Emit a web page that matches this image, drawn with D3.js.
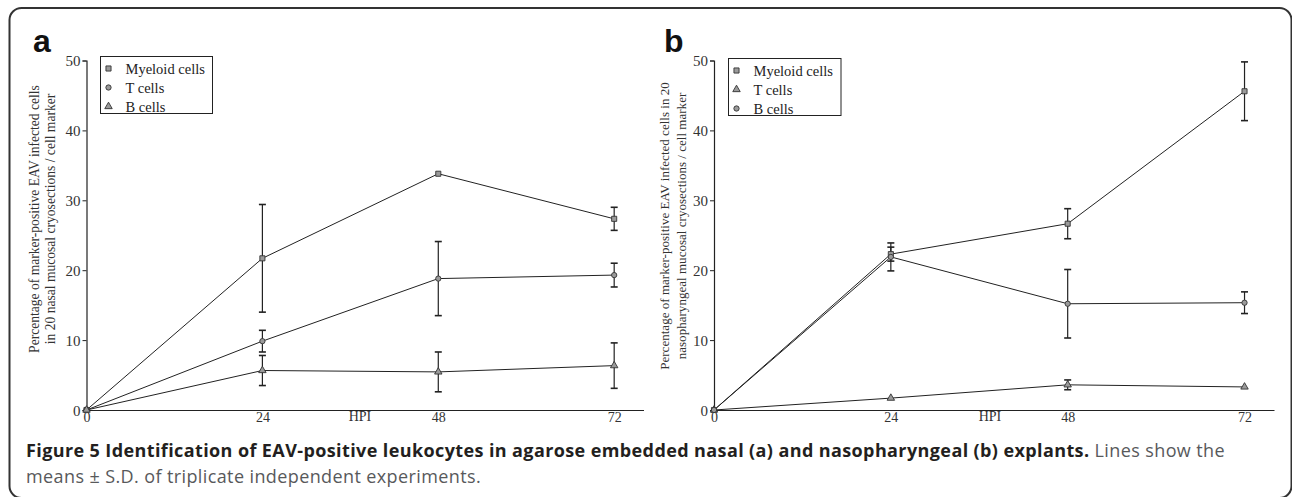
<!DOCTYPE html>
<html>
<head>
<meta charset="utf-8">
<script src="https://cdn.jsdelivr.net/npm/d3@7/dist/d3.min.js"></script>
<style>
  html, body { margin: 0; padding: 0; background: #fff; }
  svg { display: block; }
</style>
</head>
<body>
<svg id="chart" width="1292" height="497"></svg>
<script>
// ---------- DATA ----------
const hours = [0, 24, 48, 72];
const xTickLabels = [0, 24, 48, 72];
const yTickValues = [0, 10, 20, 30, 40, 50];

// Panel a (nasal)
const aSeriesNames = ["Myeloid cells", "T cells", "B cells"];
const aMyeloid   = [0, 21.7, 33.8, 27.35];
const aMyeloidSD = [0, 7.7, 0, 1.65];
const aTcells    = [0, 9.85, 18.8, 19.3];
const aTcellsSD  = [0, 1.55, 5.3, 1.7];
const aBcells    = [0, 5.65, 5.45, 6.35];
const aBcellsSD  = [0, 2.15, 2.85, 3.25];

// Panel b (nasopharyngeal)
const bSeriesNames = ["Myeloid cells", "T cells", "B cells"];
const bMyeloid   = [0, 22.3, 26.65, 45.6];
const bMyeloidSD = [0, 1.0, 2.15, 4.2];
const bTcells    = [0, 1.7, 3.6, 3.3];
const bTcellsSD  = [0, 0, 0.7, 0];
const bBcells    = [0, 21.9, 15.2, 15.35];
const bBcellsSD  = [0, 2.0, 4.9, 1.55];

const captionBold = "Figure 5 Identification of EAV-positive leukocytes in agarose embedded nasal (a) and nasopharyngeal (b) explants.";
const captionRegular1 = " Lines show the";
const captionRegular2 = "means \u00B1 S.D. of triplicate independent experiments.";

// ---------- DRAW ----------
const svg = d3.select("#chart");
const serif = "'Liberation Serif', 'Times New Roman', serif";
const ink = "#222";

// frame
svg.append("rect")
  .attr("x", 9.5).attr("y", 8).attr("width", 1282).attr("height", 490)
  .attr("rx", 12).attr("ry", 12)
  .attr("fill", "none").attr("stroke", "#333").attr("stroke-width", 2);

function markerPath(shape) {
  if (shape === "square") return d3.symbol(d3.symbolSquare, 26)();
  if (shape === "circle") return d3.symbol(d3.symbolCircle, 22)();
  return d3.symbol(d3.symbolTriangle, 24)();
}

function panel(opts) {
  const g = svg.append("g");
  const x = d3.scaleLinear().domain([0, 76]).range([opts.x0, opts.x1]);
  const y = d3.scaleLinear().domain([0, 50]).range([410, 60.5]);

  // y axis
  const ya = g.append("g").attr("transform", `translate(${opts.x0},0)`)
    .call(d3.axisLeft(y).tickValues(yTickValues).tickSize(4).tickPadding(2));
  ya.select(".domain").attr("stroke", ink).attr("stroke-width", 1.2);
  ya.selectAll(".tick line").attr("stroke", ink);
  ya.selectAll("text").attr("font-family", serif).attr("font-size", 15).attr("fill", "#333")
    .attr("dy", "0.34em");

  // x axis
  const xa = g.append("g").attr("transform", `translate(0,410)`)
    .call(d3.axisBottom(x).tickValues(xTickLabels).tickSize(0).tickPadding(2).tickSizeOuter(0));
  xa.select(".domain").attr("stroke", ink).attr("stroke-width", 1.2);
  xa.selectAll("text").attr("font-family", serif).attr("font-size", 14).attr("fill", "#333");

  g.append("text").attr("x", opts.hpiX).attr("y", 421)
    .attr("text-anchor", "middle").attr("font-family", serif).attr("font-size", 14)
    .attr("fill", "#333").text("HPI");

  // y label
  const yl = g.append("text")
    .attr("transform", `translate(${opts.ylX},${opts.ylY}) rotate(-90)`)
    .attr("text-anchor", "middle").attr("font-family", serif)
    .attr("font-size", 12).attr("fill", "#333");
  const t1 = yl.append("tspan").attr("x", 0).attr("dy", 0).text(opts.ylabel[0]);
  yl.append("tspan").attr("x", 0).attr("dy", opts.ylGap).text(opts.ylabel[1]);
  const w1 = t1.node().getComputedTextLength();
  yl.attr("font-size", 12 * opts.ylLen / w1);

  // panel letter
  g.append("text").attr("x", opts.letterX).attr("y", 52)
    .attr("font-family", "'Liberation Sans', Arial, sans-serif").attr("font-weight", "bold")
    .attr("font-size", 32).attr("fill", "#111").text(opts.letter);

  const line = d3.line().x((d, i) => x(hours[i])).y(d => y(d));

  opts.series.forEach(s => {
    g.append("path").datum(s.values).attr("d", line)
      .attr("fill", "none").attr("stroke", ink).attr("stroke-width", 1);
  });
  opts.series.forEach(s => {
    s.values.forEach((v, i) => {
      const sd = s.sd[i];
      if (!sd) return;
      const cx = x(hours[i]);
      g.append("line").attr("x1", cx).attr("x2", cx).attr("y1", y(v + sd)).attr("y2", y(v - sd))
        .attr("stroke", ink).attr("stroke-width", 1.2);
      [v + sd, v - sd].forEach(e => {
        g.append("line").attr("x1", cx - 3.5).attr("x2", cx + 3.5).attr("y1", y(e)).attr("y2", y(e))
          .attr("stroke", ink).attr("stroke-width", 1.6);
      });
    });
  });
  opts.series.forEach(s => {
    s.values.forEach((v, i) => {
      g.append("path").attr("d", markerPath(s.shape))
        .attr("transform", `translate(${x(hours[i])},${y(v)})`)
        .attr("fill", "#9a9a9a").attr("stroke", "#333").attr("stroke-width", 0.9);
    });
  });

  // legend
  const lg = g.append("g");
  lg.append("rect").attr("x", opts.legX).attr("y", opts.legY).attr("width", opts.legW).attr("height", 57)
    .attr("fill", "#fff").attr("stroke", ink).attr("stroke-width", 1);
  opts.series.forEach((s, i) => {
    const ry = opts.legY + 12 + i * 19;
    lg.append("path").attr("d", markerPath(s.shape))
      .attr("transform", `translate(${opts.legX + 8},${ry})`)
      .attr("fill", "#9a9a9a").attr("stroke", "#333").attr("stroke-width", 0.9);
    lg.append("text").attr("x", opts.legX + 25).attr("y", ry + 5)
      .attr("font-family", serif).attr("font-size", 14.5).attr("fill", "#222").text(s.name);
  });
}

panel({
  x0: 86.5, x1: 643.5, hpiX: 360, letter: "a", letterX: 33,
  ylX: 39, ylY: 219, ylLen: 268, ylGap: 16,
  ylabel: ["Percentage of marker-positive EAV infected cells", "in 20 nasal mucosal cryosections / cell marker"],
  legX: 100.5, legY: 56.5, legW: 112,
  series: [
    {name: aSeriesNames[0], values: aMyeloid, sd: aMyeloidSD, shape: "square"},
    {name: aSeriesNames[1], values: aTcells, sd: aTcellsSD, shape: "circle"},
    {name: aSeriesNames[2], values: aBcells, sd: aBcellsSD, shape: "triangle"}
  ]
});

panel({
  x0: 714, x1: 1274, hpiX: 990, letter: "b", letterX: 664,
  ylX: 669, ylY: 226, ylLen: 288, ylGap: 17,
  ylabel: ["Percentage of marker-positive EAV infected cells in 20", "nasopharyngeal mucosal cryosections / cell marker"],
  legX: 728.5, legY: 58.5, legW: 112.5,
  series: [
    {name: bSeriesNames[0], values: bMyeloid, sd: bMyeloidSD, shape: "square"},
    {name: bSeriesNames[1], values: bTcells, sd: bTcellsSD, shape: "triangle"},
    {name: bSeriesNames[2], values: bBcells, sd: bBcellsSD, shape: "circle"}
  ]
});

// caption (fit line 1 to the reference width)
const capFont = "'Open Sans', 'Noto Sans', sans-serif";
const capSize = 18;
const c1 = svg.append("text").attr("x", 26).attr("y", 457).attr("font-family", capFont).attr("font-size", capSize);
c1.append("tspan").attr("font-weight", "bold").attr("fill", "#231f20").text(captionBold);
c1.append("tspan").attr("fill", "#58595b").text(captionRegular1);
const c2 = svg.append("text").attr("x", 26).attr("y", 483).attr("font-family", capFont).attr("font-size", capSize)
  .attr("fill", "#58595b").text(captionRegular2);
const capW = c1.node().getComputedTextLength();
const nChars = (captionBold + captionRegular1).length;
const ls = (1199 - capW) / nChars;
c1.attr("letter-spacing", ls);
c2.attr("letter-spacing", ls);
</script>
</body>
</html>
